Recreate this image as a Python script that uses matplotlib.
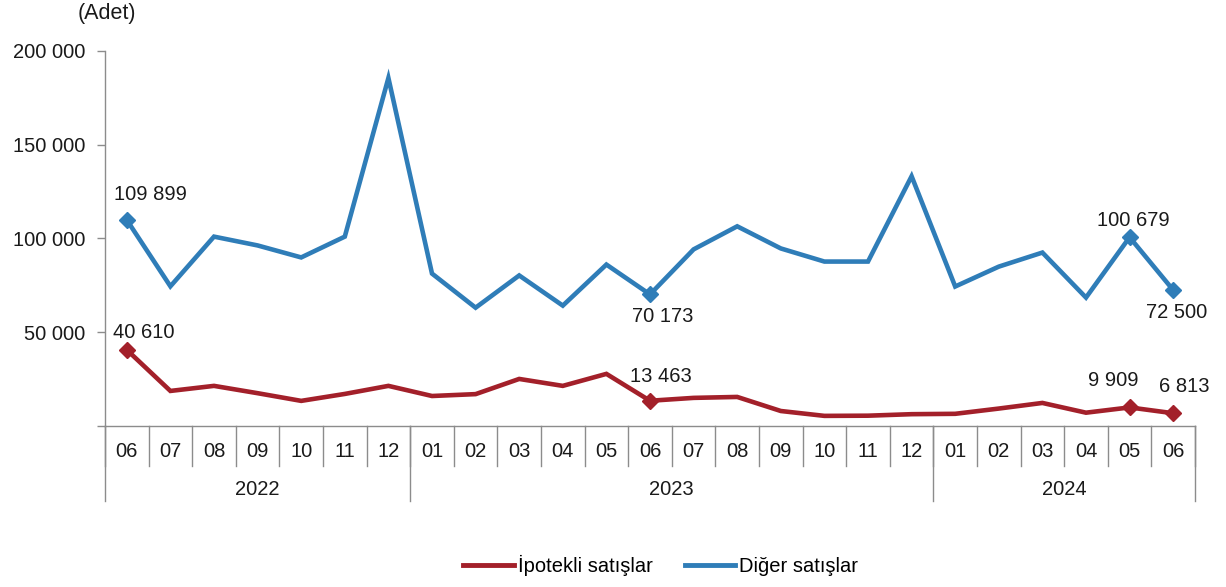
import matplotlib
matplotlib.use("Agg")
import matplotlib.pyplot as plt
import matplotlib.transforms as mtransforms
from matplotlib.ticker import FuncFormatter
from matplotlib.lines import Line2D

plt.rcParams['font.family'] = ['Liberation Sans', 'DejaVu Sans']

months = ["06", "07", "08", "09", "10", "11", "12",
          "01", "02", "03", "04", "05", "06", "07", "08", "09", "10", "11", "12",
          "01", "02", "03", "04", "05", "06"]
years = ["2022", "2023", "2024"]
year_counts = [7, 12, 6]

ipotekli = [40610, 18700, 21400, 17500, 13400, 17100, 21400,
            16000, 17000, 25100, 21400, 27800, 13463, 15000, 15500,
            8000, 5400, 5500, 6300, 6500, 9300, 12300, 7100, 9909, 6813]
diger = [109899, 74500, 101000, 96300, 89900, 101000, 185600,
         81300, 63100, 80300, 64200, 86100, 70173, 94200, 106500,
         94700, 87700, 87700, 133200, 74400, 85000, 92500, 68500, 100679, 72500]

labels_ipotekli = {0: "40 610", 12: "13 463", 23: "9 909", 24: "6 813"}
labels_diger = {0: "109 899", 12: "70 173", 23: "100 679", 24: "72 500"}

red = "#A3202A"
blue = "#2F7DB8"
grey = "#8C8C8C"

fig = plt.figure(figsize=(12.26, 5.87), dpi=100)
ax = fig.add_axes([105/1226, 1-426/587, 1090/1226, 375/587])

x = list(range(len(months)))
ax.plot(x, ipotekli, color=red, lw=3.3, solid_joinstyle='miter', zorder=3)
ax.plot(x, diger, color=blue, lw=3.3, solid_joinstyle='miter', zorder=3)

for i in labels_ipotekli:
    ax.plot(i, ipotekli[i], marker='D', color=red, ms=8, zorder=4)
for i in labels_diger:
    ax.plot(i, diger[i], marker='D', color=blue, ms=8, zorder=4)

fs = 14.5
off_diger = {0: (24, 25), 12: (13, -22), 23: (4, 17), 24: (3, -22)}
off_ipot = {0: (17, 17), 12: (11, 24), 23: (-16, 27), 24: (11, 27)}
for i, txt in labels_diger.items():
    ax.annotate(txt, (i, diger[i]), xytext=off_diger[i], textcoords='offset pixels',
                ha='center', va='center', fontsize=fs, color='#1a1a1a')
for i, txt in labels_ipotekli.items():
    ax.annotate(txt, (i, ipotekli[i]), xytext=off_ipot[i], textcoords='offset pixels',
                ha='center', va='center', fontsize=fs, color='#1a1a1a')

ax.set_xlim(-0.5, len(months) - 0.5)
ax.set_ylim(0, 200000)
ax.set_yticks([0, 50000, 100000, 150000, 200000])
ax.yaxis.set_major_formatter(FuncFormatter(lambda v, p: "" if v == 0 else f"{int(v):,}".replace(",", " ")))
ax.tick_params(axis='y', direction='out', length=6, width=1, color=grey, labelsize=fs, pad=8,
               labelcolor='#1a1a1a')

ax.set_xticks(x)
ax.set_xticklabels([])
ax.tick_params(axis='x', length=0)

for s in ['top', 'right']:
    ax.spines[s].set_visible(False)
for s in ['left', 'bottom']:
    ax.spines[s].set_color(grey)
    ax.spines[s].set_linewidth(1)

trans = mtransforms.blended_transform_factory(ax.transData, ax.transAxes)
for i, m in enumerate(months):
    ax.text(i, -0.068, m, transform=trans, ha='center', va='center', fontsize=fs, color='#1a1a1a')
for i in range(len(months) + 1):
    ax.plot([i - 0.5, i - 0.5], [0, -0.107], transform=trans, color=grey, lw=1, clip_on=False)

start = 0
bounds = [0]
for yname, cnt in zip(years, year_counts):
    end = start + cnt
    ax.text((start + end - 1) / 2, -0.17, yname, transform=trans, ha='center', va='center',
            fontsize=fs, color='#1a1a1a')
    start = end
    bounds.append(end)
for b in bounds:
    ax.plot([b - 0.5, b - 0.5], [0, -0.2], transform=trans, color=grey, lw=1, clip_on=False)

fig.text(78/1226, 1-13/587, "(Adet)", fontsize=fs + 1, ha='left', va='center', color='#1a1a1a')

handles = [Line2D([], [], color=red, lw=3.5), Line2D([], [], color=blue, lw=3.5)]
fig.legend(handles, ["İpotekli satışlar", "Diğer satışlar"], loc='center', bbox_to_anchor=(0.539, 0.037),
           ncol=2, frameon=False, fontsize=fs, handlelength=2.5, handletextpad=0.2, columnspacing=1.6)

fig.savefig("out.png", dpi=100)
